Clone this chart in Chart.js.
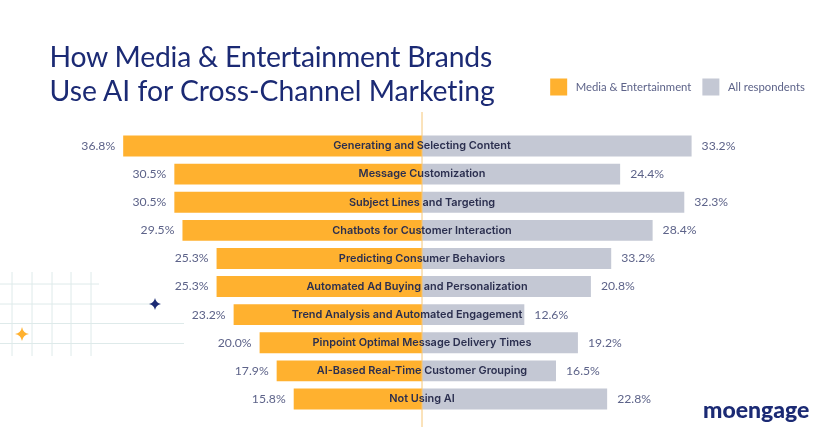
<!DOCTYPE html>
<html>
<head>
<meta charset="utf-8">
<script src="https://cdn.jsdelivr.net/npm/chart.js@4"></script>
<style>
html, body { margin: 0; padding: 0; background: #fff; }
#wrap { position: relative; width: 832px; height: 435px; overflow: hidden; }
#deco { position: absolute; left: 0; top: 0; }
#chartBars { position: absolute; left: 0; top: 0; }
h1 { position: absolute; left: 49.500px; top: 39px; margin: 0; font: 400 28.3px/34px Lato, sans-serif; font-variant-ligatures: none; color: #1b2a74; white-space: nowrap; }
h1 span { letter-spacing: -0.2px; }
#logo { position: absolute; left: 703px; top: 396px; font: 900 23px/26px Lato, sans-serif; color: #1b2a74; }
</style>
</head>
<body>
<div id="wrap">
  <svg id="deco" width="832" height="435">
    <g stroke="#deeaea" stroke-width="1">
      <path d="M12 272V356M32 272V356M52 272V356M71 272V356M91 272V356"/>
      <path d="M0 284H99M0 304H155M0 323.500H184M0 343.500H184"/>
    </g>
    <path d="M155 298Q156 303 161 304Q156 305 155 310Q154 305 149 304Q154 303 155 298Z" fill="#1b2a74"/>
    <path d="M22 327Q23 333 29 334Q23 335 22 341Q21 335 15 334Q21 333 22 327Z" fill="#ffb12f"/>
  </svg>
  <canvas id="chartBars" width="832" height="435"></canvas>
  <h1><span>How Media &amp; Entertainment Brands</span><br>Use AI for Cross-Channel Marketing</h1>
  <div id="logo">moengage</div>
</div>
<script>
const categories = [
    "Generating and Selecting Content",
    "Message Customization",
    "Subject Lines and Targeting",
    "Chatbots for Customer Interaction",
    "Predicting Consumer Behaviors",
    "Automated Ad Buying and Personalization",
    "Trend Analysis and Automated Engagement",
    "Pinpoint Optimal Message Delivery Times",
    "AI-Based Real-Time Customer Grouping",
    "Not Using AI"
];
const mediaValues = [36.8, 30.5, 30.5, 29.5, 25.3, 25.3, 23.2, 20.0, 17.9, 15.8];
const allValues = [33.2, 24.4, 32.3, 28.4, 23.3, 20.8, 12.6, 19.2, 16.5, 22.8];
// printed labels, the 5th grey bar is drawn shorter than its label says
const mediaLabels = ["36.8%", "30.5%", "30.5%", "29.5%", "25.3%", "25.3%", "23.2%", "20.0%", "17.9%", "15.8%"];
const allLabels = ["33.2%", "24.4%", "32.3%", "28.4%", "33.2%", "20.8%", "12.6%", "19.2%", "16.5%", "22.8%"];

// two long labels sit left of the centre line in the original
const nameShift = { 5: -5, 6: -15 };

const barText = {
    id: "barText",
    beforeInit(chart) {
        // leave room under the legend before the first bar
        const legend = chart.legend;
        const fit = legend.fit;
        legend.fit = function () {
            fit.call(this);
            this.height += 26.5;
        };
    },
    afterDatasetsDraw(chart) {
        const ctx = chart.ctx;
        const x = chart.scales.x;
        const y = chart.scales.y;
        const zero = x.getPixelForValue(0);

        ctx.save();
        ctx.strokeStyle = "#f6c677";
        ctx.lineWidth = 1;
        ctx.beginPath();
        ctx.moveTo(zero, 112);
        ctx.lineTo(zero, 427);
        ctx.stroke();

        ctx.textBaseline = "middle";
        categories.forEach((name, i) => {
            const rowY = y.getPixelForValue(i);
            ctx.font = "600 10.9px Inter, sans-serif";
            ctx.fillStyle = "#2b2f4f";
            ctx.textAlign = "center";
            ctx.fillText(name, zero + (nameShift[i] || 0), rowY);

            ctx.font = "400 12.2px Lato, sans-serif";
            ctx.fillStyle = "#5d6389";
            ctx.textAlign = "right";
            ctx.fillText(mediaLabels[i], x.getPixelForValue(-mediaValues[i]) - 8, rowY);
            ctx.textAlign = "left";
            ctx.fillText(allLabels[i], x.getPixelForValue(allValues[i]) + 10, rowY);
        });
        ctx.restore();
    }
};

new Chart(document.getElementById("chartBars"), {
    type: "bar",
    data: {
        labels: categories,
        datasets: [
            // leading space widens the gap between legend box and text
            { label: " Media & Entertainment", data: mediaValues.map(v => -v), backgroundColor: "#ffb12f" },
            { label: " All respondents", data: allValues, backgroundColor: "#c4c8d4" }
        ]
    },
    options: {
        indexAxis: "y",
        responsive: false,
        animation: false,
        layout: { padding: { top: 67.5, bottom: 22, left: 0, right: 16 } },
        datasets: { bar: { barPercentage: 1, categoryPercentage: 0.745 } },
        scales: {
            x: { stacked: true, display: false, min: -51.97, max: 48.52 },
            y: { stacked: true, display: false }
        },
        plugins: {
            tooltip: { enabled: false },
            legend: {
                position: "top",
                align: "end",
                labels: {
                    boxWidth: 17,
                    boxHeight: 17,
                    padding: 11,
                    color: "#5d6389",
                    font: { family: "Lato, sans-serif", size: 11.3 }
                }
            }
        }
    },
    plugins: [barText]
});
</script>
</body>
</html>
